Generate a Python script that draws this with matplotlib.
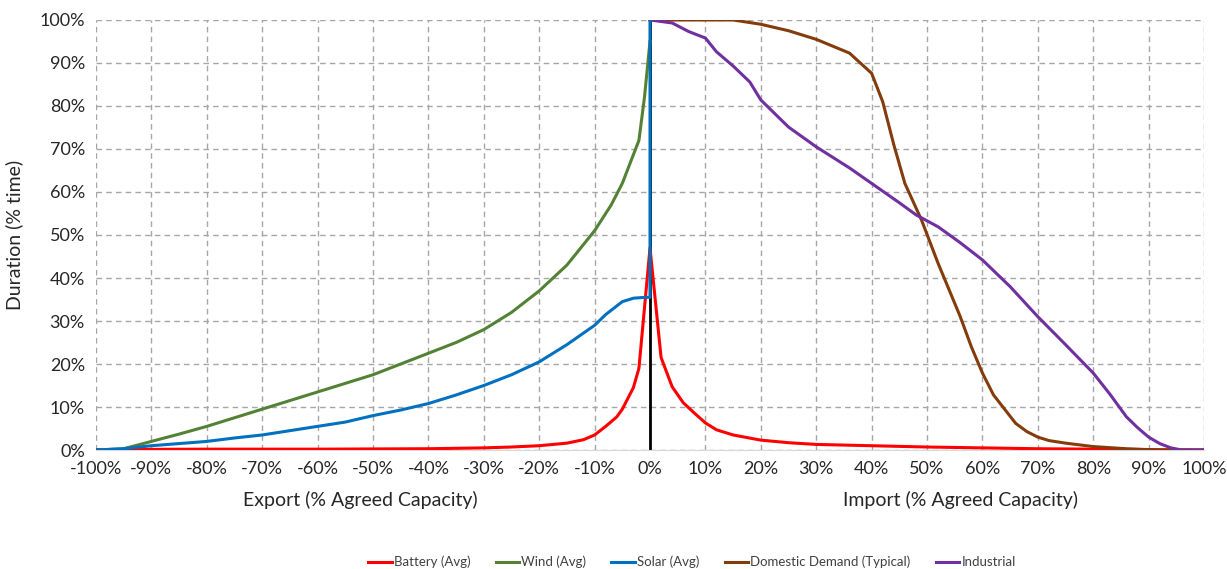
import matplotlib.pyplot as plt
import numpy as np

plt.rcParams['font.family'] = ['Lato', 'DejaVu Sans']

# export side (negative = export), values in % time
wind_x = [-100, -95, -90, -85, -80, -75, -70, -65, -60, -55, -50, -45, -40, -35,
          -30, -25, -20, -15, -10, -7, -5, -2, -1, 0]
wind_y = [0, 0.3, 2, 3.7, 5.5, 7.5, 9.5, 11.5, 13.5, 15.5, 17.5, 20, 22.5, 25,
          28, 32, 37, 43, 51, 57, 62, 72, 82, 95]

solar_x = [-100, -95, -90, -85, -80, -75, -70, -65, -60, -55, -50, -45, -40, -35,
           -30, -25, -20, -15, -10, -8, -5, -3, -1, 0, 0]
solar_y = [0, 0.3, 1, 1.5, 2, 2.8, 3.5, 4.5, 5.5, 6.5, 8, 9.3, 10.8, 12.8,
           15, 17.5, 20.5, 24.5, 29, 31.5, 34.5, 35.3, 35.5, 35.5, 100]

battery_x = [-100, -80, -60, -40, -35, -30, -25, -20, -15, -12, -10, -8, -6, -5,
             -4, -3, -2, 0, 2, 4, 6, 8, 10, 12, 15, 20, 25, 30, 40, 50, 60, 70,
             80, 90, 100]
battery_y = [0.1, 0.2, 0.2, 0.3, 0.4, 0.5, 0.7, 1.0, 1.6, 2.4, 3.5, 5.5, 7.7, 9.5,
             12, 14.5, 19, 47, 21.5, 14.7, 11, 8.6, 6.3, 4.7, 3.5, 2.3, 1.7, 1.3,
             1.0, 0.7, 0.5, 0.3, 0.2, 0.1, 0]

domestic_x = [0, 10, 15, 20, 25, 30, 36, 40, 42, 44, 46, 49, 52, 56, 58, 60, 62,
              64, 66, 68, 70, 72, 75, 80, 86, 92, 100]
domestic_y = [100, 100, 100, 99, 97.5, 95.5, 92.3, 87.6, 81, 71, 62, 53.5, 43.4,
              31, 24, 17.9, 12.8, 9.5, 6.2, 4.3, 3, 2.2, 1.6, 0.8, 0.3, 0, 0]

industrial_x = [0, 4, 7, 10, 12, 15, 18, 20, 25, 30, 36, 40, 45, 48, 52, 56, 60,
                65, 70, 75, 80, 83, 86, 88, 90, 92, 94, 96, 100]
industrial_y = [100, 99.3, 97.3, 95.8, 92.6, 89.3, 85.6, 81.4, 75.1, 70.5, 65.6,
                62, 57.5, 54.7, 51.9, 48.2, 44.2, 38, 31, 24.5, 17.9, 13, 7.7,
                5.2, 3, 1.5, 0.5, 0, 0]

fig = plt.figure(figsize=(12.27, 5.69), dpi=100)
ax = fig.add_axes([0.0782, 0.2091, 0.9031, 0.7558])

lw = 2.2
ax.plot([0, 0], [0, 100], color='black', lw=2, zorder=2)
ax.plot(battery_x, battery_y, color='#ff0000', lw=lw, label='Battery (Avg)', zorder=3)
ax.plot(wind_x, wind_y, color='#548235', lw=lw, label='Wind (Avg)', zorder=3)
ax.plot(solar_x, solar_y, color='#0070c0', lw=lw, label='Solar (Avg)', zorder=4)
ax.plot(domestic_x, domestic_y, color='#843c0c', lw=lw,
        label='Domestic Demand (Typical)', zorder=3)
ax.plot(industrial_x, industrial_y, color='#7030a0', lw=lw, label='Industrial', zorder=3)

ax.set_xlim(-100, 100)
ax.set_ylim(0, 100)
ax.set_xticks(np.arange(-100, 101, 10))
ax.set_xticklabels([f'{v}%' for v in range(-100, 101, 10)])
ax.set_yticks(np.arange(0, 101, 10))
ax.set_yticklabels([f'{v}%' for v in range(0, 101, 10)])
ax.tick_params(length=0, labelsize=13, colors='#262626', pad=8)
ax.grid(True, color='#a6a6a6', linestyle=(0, (4, 3)), lw=1)
for s in ['left', 'top', 'right']:
    ax.spines[s].set_visible(False)
ax.spines['bottom'].set_color('#d9d9d9')
ax.set_ylabel('Duration (% time)', fontsize=14, color='#262626', labelpad=12)

fig.text(360 / 1227, 1 - 500 / 569, 'Export (% Agreed Capacity)', fontsize=14,
         color='#262626', ha='center', va='center')
fig.text(960 / 1227, 1 - 500 / 569, 'Import (% Agreed Capacity)', fontsize=14,
         color='#262626', ha='center', va='center')

fig.legend(loc='center', bbox_to_anchor=(692 / 1227, 1 - 562 / 569), ncol=5,
           frameon=False, fontsize=9.5, handlelength=1.8, columnspacing=1.9,
           handletextpad=0.15, labelcolor='#404040')

fig.savefig('out.png', dpi=100)
